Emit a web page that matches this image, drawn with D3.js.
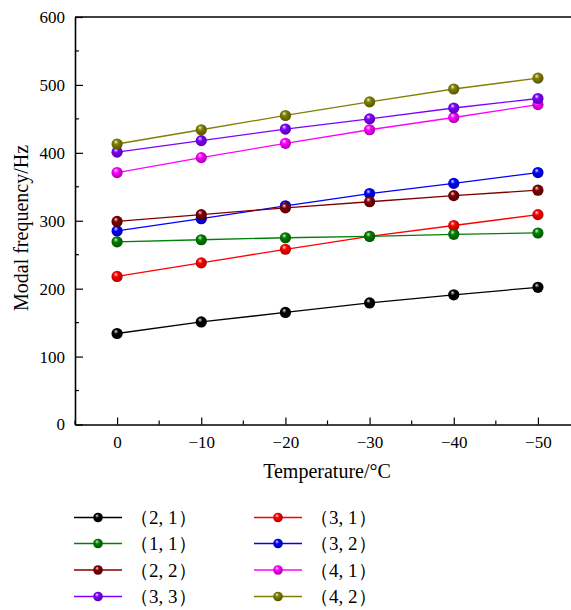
<!DOCTYPE html>
<html>
<head>
<meta charset="utf-8">
<script src="https://cdn.jsdelivr.net/npm/d3@7"></script>
<style>
  body { margin: 0; background: #fff; }
  svg { display: block; }
  text { font-family: "Liberation Serif", "Times New Roman", serif; fill: #000; }
</style>
</head>
<body>
<svg id="chart" width="571" height="610"></svg>
<script>
// 数据
const temps = [0, -10, -20, -30, -40, -50];
const names = ["（2, 1）", "（3, 1）", "（1, 1）", "（3, 2）", "（2, 2）", "（4, 1）", "（3, 3）", "（4, 2）"];
const colors = ["#000000", "#ff0000", "#008000", "#0000ff", "#800000", "#ff00ff", "#8000ff", "#808000"];
const s21 = [134, 151, 165, 179, 191, 202];
const s31 = [218, 238, 258, 277, 293, 309];
const s11 = [269, 272, 275, 277, 280, 282];
const s32 = [285, 303, 322, 340, 355, 371];
const s22 = [299, 309, 319, 328, 337, 345];
const s41 = [371, 393, 414, 434, 452, 471];
const s33 = [401, 418, 435, 450, 466, 480];
const s42 = [413, 434, 455, 475, 494, 510];
const seriesValues = [s21, s31, s11, s32, s22, s41, s33, s42];
const xTicks = [0, -10, -20, -30, -40, -50];
const yTicks = [0, 100, 200, 300, 400, 500, 600];

const svg = d3.select("#chart");
const mLeft = 75, mTop = 17, mBottom = 424.5, mRight = 580;

const x = d3.scaleLinear().domain([5, -55]).range([mLeft, mRight]);
const y = d3.scaleLinear().domain([0, 600]).range([mBottom, mTop]);

// 渐变（球形标记）
const defs = svg.append("defs");
colors.forEach((c, i) => {
    const g = defs.append("radialGradient")
        .attr("id", "ball" + i)
        .attr("cx", "0.45").attr("cy", "0.42").attr("r", "0.6")
        .attr("fx", "0.38").attr("fy", "0.3");
    g.append("stop").attr("offset", "0%").attr("stop-color", d3.interpolateRgb(c, "#fff")(0.85));
    g.append("stop").attr("offset", "35%").attr("stop-color", c);
    g.append("stop").attr("offset", "100%").attr("stop-color", d3.interpolateRgb(c, "#000")(0.35));
});

// 坐标轴
const xMinor = d3.range(5, -60, -5).filter(v => v % 10 !== 0);
const yMinor = d3.range(50, 600, 100);

const gx = svg.append("g").attr("transform", `translate(0,${mBottom})`);
gx.call(d3.axisBottom(x).tickValues(xTicks).tickSizeInner(-7).tickSizeOuter(0)
    .tickPadding(11).tickFormat(d => d === 0 ? "0" : "\u2212" + Math.abs(d)));
gx.select(".domain").attr("stroke-width", 1.6);
gx.selectAll("text").attr("font-size", 17).attr("font-family", "Liberation Serif");
gx.selectAll("line").attr("stroke-width", 1.2);
gx.selectAll(".minor").data(xMinor).enter().append("line")
    .attr("x1", d => x(d)).attr("x2", d => x(d)).attr("y1", 0).attr("y2", -4)
    .attr("stroke", "#000").attr("stroke-width", 1.2);

const gy = svg.append("g").attr("transform", `translate(${mLeft},0)`);
gy.call(d3.axisLeft(y).tickValues(yTicks).tickSizeInner(-8).tickSizeOuter(0).tickPadding(10));
gy.select(".domain").attr("stroke-width", 1.6);
gy.selectAll("text").attr("font-size", 17).attr("font-family", "Liberation Serif");
gy.selectAll("line").attr("stroke-width", 1.2);
gy.selectAll(".minor").data(yMinor).enter().append("line")
    .attr("y1", d => y(d)).attr("y2", d => y(d)).attr("x1", 0).attr("x2", 4)
    .attr("stroke", "#000").attr("stroke-width", 1.2);

// 上边框
svg.append("line")
    .attr("x1", mLeft).attr("x2", mRight).attr("y1", mTop).attr("y2", mTop)
    .attr("stroke", "#000").attr("stroke-width", 1.6);

// 轴标题
svg.append("text")
    .attr("x", 327).attr("y", 478)
    .attr("text-anchor", "middle").attr("font-size", 20)
    .text("Temperature/°C");

svg.append("text")
    .attr("transform", "translate(28,228) rotate(-90)")
    .attr("text-anchor", "middle").attr("font-size", 20)
    .text("Modal frequency/Hz");

// 折线与标记
const line = d3.line().x((d, i) => x(temps[i])).y(d => y(d));

seriesValues.forEach((vals, i) => {
    const g = svg.append("g");
    g.append("path")
        .datum(vals)
        .attr("d", line)
        .attr("fill", "none")
        .attr("stroke", colors[i])
        .attr("stroke-width", 1.3);
    g.selectAll("circle")
        .data(vals)
        .enter()
        .append("circle")
        .attr("cx", (d, j) => x(temps[j]))
        .attr("cy", d => y(d))
        .attr("r", 5.6)
        .attr("fill", `url(#ball${i})`);
});

// 图例
const legend = svg.append("g");
const rowY = [517.5, 543.5, 570, 596.5];
names.forEach((n, i) => {
    const col = i % 2, row = Math.floor(i / 2);
    const lx = col === 0 ? 74 : 254;
    const ly = rowY[row];
    legend.append("line")
        .attr("x1", lx).attr("x2", lx + 48).attr("y1", ly).attr("y2", ly)
        .attr("stroke", colors[i]).attr("stroke-width", 1.3);
    legend.append("circle")
        .attr("cx", lx + 24).attr("cy", ly).attr("r", 4.8)
        .attr("fill", `url(#ball${i})`);
    legend.append("text")
        .attr("x", lx + 56).attr("y", ly).attr("dy", "0.35em")
        .attr("font-size", 19)
        .attr("font-family", "'Liberation Serif', 'Noto Sans CJK SC', serif")
        .text(n);
});
</script>
</body>
</html>
